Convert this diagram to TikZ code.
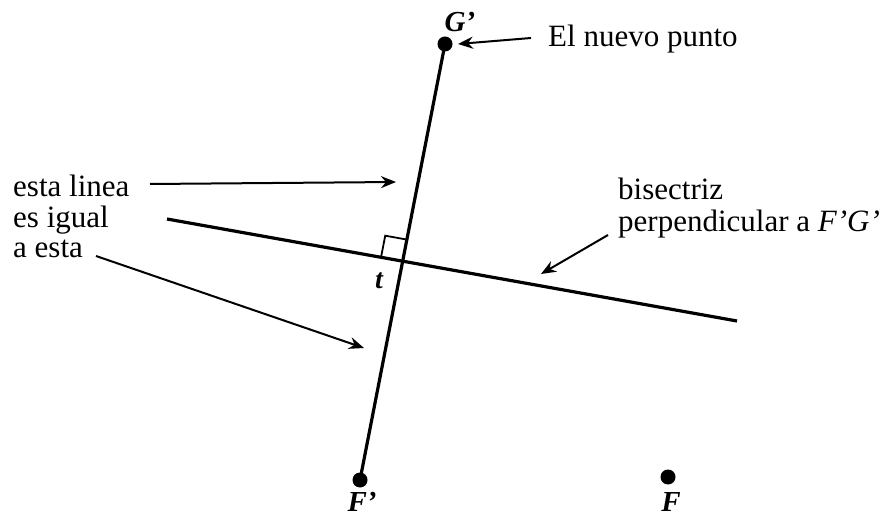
\documentclass[tikz,border=0pt]{standalone}
\usepackage{fontspec}
\setmainfont{Liberation Serif}
\usetikzlibrary{arrows.meta,calc}
\begin{document}
\begin{tikzpicture}[x=1pt,y=-1pt,
 dot/.style={circle,fill=black,inner sep=0pt,minimum size=15pt},
 geo/.style={line width=3.2pt},
 ptr/.style={line width=2pt,-{Stealth[length=15pt,width=12pt,inset=5pt]}},
 txt/.style={font=\fontsize{31}{33}\selectfont,inner sep=0pt,anchor=base west},
 lbl/.style={font=\fontsize{29}{31}\selectfont\bfseries\itshape,inner sep=0pt}]
\useasboundingbox (0,0) rectangle (883,518);
% points
\node[dot] (Gp) at (445,44) {};
\node[dot] (Fp) at (360,480) {};
\node[dot] (F) at (668,477) {};
\node[lbl] (GpL) at (460,22) {G'};
\node[lbl] (FpL) at (362,502) {F'};
\node[lbl] (FL) at (671,502) {F};
% bisector
\coordinate (bL) at (167,219);
\coordinate (bR) at (737,321);
\draw[geo] (Gp.center) -- (Fp.center);
\draw[geo] (bL) -- (bR);
\coordinate (I) at (intersection of Gp--Fp and bL--bR);
\coordinate (c1) at ($(I)!22pt!(bL)$);
\coordinate (c2) at ($(I)!22pt!(Gp)$);
\draw[line width=1.8pt] (c1) -- ($(c1)+(c2)-(I)$) -- (c2);
\node[font=\fontsize{28}{30}\selectfont\bfseries\itshape,inner sep=0pt] (tL) at (379,281) {t};
% texts
\node[txt] (nuevo) at (548,47) {El nuevo punto};
\node[txt] (l1) at (13,197) {esta linea};
\node[txt] (l2) at (13,228) {es igual};
\node[txt] (l3) at (13,258) {a esta};
\node[txt] (b1) at (618,200) {bisectriz};
\node[txt] (b2) at (618,232) {perpendicular a \textit{F'G'}};
% arrows
\coordinate (a1s) at (531,38);
\coordinate (a1e) at (458,44);
\coordinate (a2s) at (150,184);
\coordinate (a2e) at (396,182);
\coordinate (a3s) at (96,256);
\coordinate (a3e) at (364,348);
\coordinate (a4s) at (608,235);
\coordinate (a4e) at (541,274);
\draw[ptr] (a1s) -- (a1e);
\draw[ptr] (a2s) -- (a2e);
\draw[ptr] (a3s) -- (a3e);
\draw[ptr] (a4s) -- (a4e);
\end{tikzpicture}
\end{document}
